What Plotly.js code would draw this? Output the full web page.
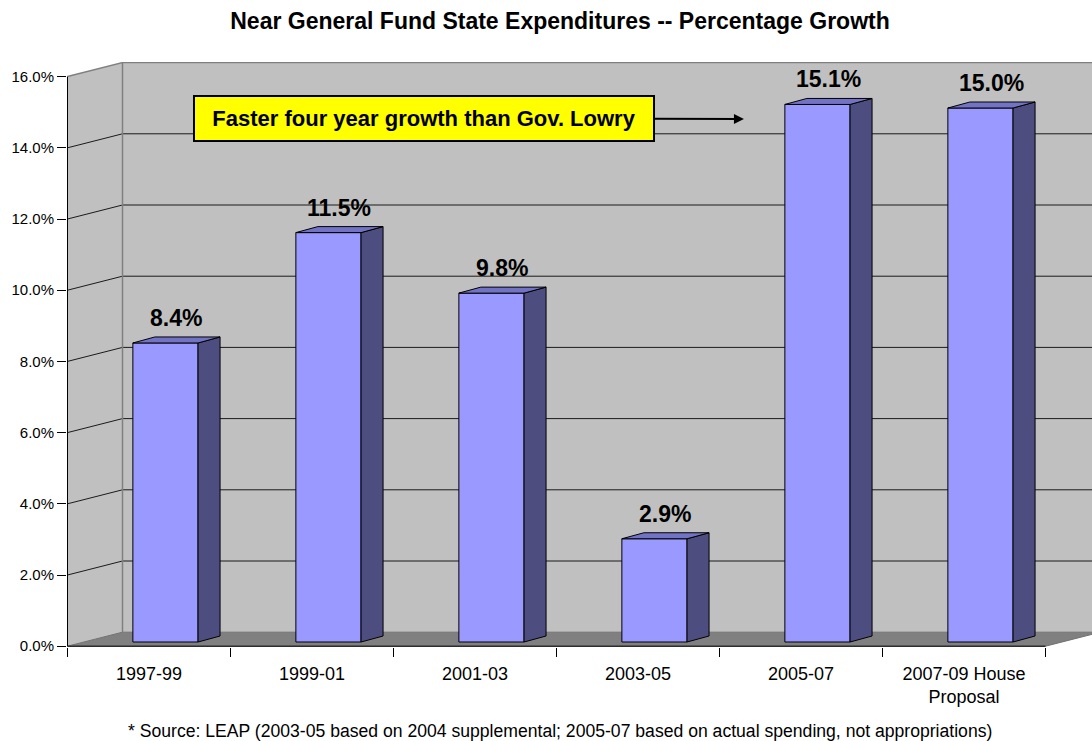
<!DOCTYPE html>
<html>
<head>
<meta charset="utf-8">
<script src="https://cdn.plot.ly/plotly-3.0.1.min.js"></script>
<style>
  html, body { margin: 0; padding: 0; background: #ffffff; }
  #chart { width: 1092px; height: 741px; }
</style>
</head>
<body>
<div id="chart"></div>
<script>
// ---- data ----
const categories = ['1997-99', '1999-01', '2001-03', '2003-05', '2005-07', '2007-09 House<br>Proposal'];
const growth = [8.4, 11.5, 9.8, 2.9, 15.1, 15.0];
const yTicks = [0, 2, 4, 6, 8, 10, 12, 14, 16];
const yTickText = ['0.0%', '2.0%', '4.0%', '6.0%', '8.0%', '10.0%', '12.0%', '14.0%', '16.0%'];
const gridTicks = [2, 4, 6, 8, 10, 12, 14];
const chartTitle = 'Near General Fund State Expenditures -- Percentage Growth';
const calloutText = 'Faster four year growth than Gov. Lowry';
const footnote = '* Source: LEAP (2003-05 based on 2004 supplemental; 2005-07 based on actual spending, not appropriations)';

// ---- 3D geometry (styling) ----
const PX_PER_CAT = 163;
const PX_PER_PCT = 35.6;
const DX = 55 / PX_PER_CAT;      // wall depth in x units
const DY = 14 / PX_PER_PCT;      // wall depth in y units
const BAR_W = 0.40;
const BAR_OFF = -0.099;
const BAR_BASE = 0.3 * DY;
const BDX = 22 / PX_PER_CAT;
const BDY = 6 / PX_PER_PCT;

const FONT = 'Liberation Sans, Arial, sans-serif';
const xIdx = categories.map((c, i) => i);
const nCat = categories.length;
const xLo = -0.5, xHi = nCat - 0.5;
const yTop = yTicks[yTicks.length - 1];

const x0 = -0.5 - 0.5 / PX_PER_CAT;
const x1 = x0 + 1025 / PX_PER_CAT;
const y0 = -0.8 / PX_PER_PCT;
const y1 = y0 + 585 / PX_PER_PCT;

// ---- traces ----
const traces = [];
traces.push({
  type: 'bar', x: xIdx, y: growth, base: BAR_BASE, width: BAR_W, offset: BAR_OFF,
  marker: { color: '#9999FF', line: { color: '#000000', width: 1 } },
  hoverinfo: 'skip', showlegend: false
});
growth.forEach((v, i) => {
  const l = i + BAR_OFF, r = l + BAR_W, b = BAR_BASE, t = BAR_BASE + v;
  // side face
  traces.push({
    type: 'scatter', mode: 'lines', fill: 'toself', fillcolor: '#4D4D80',
    x: [r, r + BDX, r + BDX, r, r], y: [b, b + BDY, t + BDY, t, b],
    line: { color: '#000000', width: 1 }, hoverinfo: 'skip', showlegend: false
  });
  // top face
  traces.push({
    type: 'scatter', mode: 'lines', fill: 'toself', fillcolor: '#7373C6',
    x: [l, l + BDX, r + BDX, r, l], y: [t, t + BDY, t + BDY, t, t],
    line: { color: '#000000', width: 1 }, hoverinfo: 'skip', showlegend: false
  });
});
// dummy trace for boundary tick axis
traces.push({ type: 'scatter', x: [], y: [], xaxis: 'x2', yaxis: 'y', showlegend: false, hoverinfo: 'skip' });

// ---- shapes (walls, floor, gridlines, axis lines) ----
const shapes = [];
shapes.push({ type: 'path', layer: 'below', xref: 'x', yref: 'y',
  path: `M ${xLo} 0 L ${xLo + DX} ${DY} L ${xLo + DX} ${yTop + DY} L ${xLo} ${yTop} Z`,
  fillcolor: '#C0C0C0', line: { width: 0 } });
shapes.push({ type: 'path', layer: 'below', xref: 'x', yref: 'y',
  path: `M ${xLo + DX} ${DY} L ${xHi + DX} ${DY} L ${xHi + DX} ${yTop + DY} L ${xLo + DX} ${yTop + DY} Z`,
  fillcolor: '#C0C0C0', line: { width: 0 } });
shapes.push({ type: 'path', layer: 'below', xref: 'x', yref: 'y',
  path: `M ${xLo} 0 L ${xHi} 0 L ${xHi + DX} ${DY} L ${xLo + DX} ${DY} Z`,
  fillcolor: '#808080', line: { color: '#707070', width: 1 } });
gridTicks.forEach(v => {
  shapes.push({ type: 'path', layer: 'below', xref: 'x', yref: 'y',
    path: `M ${xLo} ${v} L ${xLo + DX} ${v + DY} L ${xHi + DX} ${v + DY}`,
    line: { color: '#1A1A1A', width: 1 } });
});
shapes.push({ type: 'path', layer: 'below', xref: 'x', yref: 'y',
  path: `M ${xLo} ${yTop} L ${xLo + DX} ${yTop + DY} L ${xHi + DX} ${yTop + DY}`,
  line: { color: '#808080', width: 1.5 } });
shapes.push({ type: 'line', layer: 'below', xref: 'x', yref: 'y',
  x0: xLo + DX, y0: DY, x1: xLo + DX, y1: yTop + DY,
  line: { color: '#808080', width: 1.5 } });
shapes.push({ type: 'line', layer: 'below', xref: 'x', yref: 'y',
  x0: xLo, y0: 0, x1: xLo, y1: yTop, line: { color: '#000000', width: 1 } });
shapes.push({ type: 'line', layer: 'below', xref: 'x', yref: 'y',
  x0: xLo, y0: 0, x1: xHi, y1: 0, line: { color: '#000000', width: 1 } });

// ---- annotations ----
const annotations = growth.map((v, i) => ({
  xref: 'x', yref: 'y', x: i + BAR_OFF + (BAR_W + BDX) / 2, y: BAR_BASE + v + BDY,
  yanchor: 'middle', yshift: 19, showarrow: false,
  text: '<b>' + v.toFixed(1) + '%</b>',
  font: { family: FONT, size: 23, color: '#000000' }
}));
annotations.push({
  xref: 'x', yref: 'y', axref: 'x', ayref: 'y',
  x: 3.65, y: 14.81, ax: 1.687, ay: 14.82,
  text: '<b>' + calloutText + '</b>',
  font: { family: FONT, size: 22, color: '#000000' },
  bgcolor: '#FFFF00', bordercolor: '#000000', borderwidth: 2, borderpad: 0,
  width: 458, height: 43,
  showarrow: true, arrowhead: 2, arrowsize: 1, arrowwidth: 2, arrowcolor: '#000000'
});
annotations.push({
  xref: 'paper', yref: 'paper', x: (560 - 67) / 1025, y: (647 - 731) / 585,
  xanchor: 'center', yanchor: 'middle', showarrow: false,
  text: footnote, font: { family: FONT, size: 17.6, color: '#000000' }
});

const layout = {
  width: 1092, height: 741,
  margin: { l: 67, r: 0, t: 62, b: 94 },
  paper_bgcolor: '#FFFFFF', plot_bgcolor: 'rgba(0,0,0,0)',
  showlegend: false,
  title: {
    text: '<b>' + chartTitle + '</b>',
    font: { family: FONT, size: 23, color: '#000000' },
    x: 560 / 1092, xref: 'container', xanchor: 'center',
    y: 1 - 21 / 741, yref: 'container', yanchor: 'middle'
  },
  xaxis: {
    type: 'linear', range: [x0, x1], tickvals: xIdx, ticktext: categories,
    ticks: 'outside', ticklen: 10, tickcolor: 'rgba(0,0,0,0)',
    showline: false, showgrid: false, zeroline: false, fixedrange: true,
    tickfont: { family: FONT, size: 18, color: '#000000' }
  },
  xaxis2: {
    type: 'linear', range: [x0, x1], overlaying: 'x', anchor: 'y', side: 'bottom',
    tickvals: categories.map((c, i) => i - 0.5).concat([nCat - 0.5]),
    ticks: 'outside', ticklen: 9, tickwidth: 1, tickcolor: '#000000',
    showticklabels: false, showline: false, showgrid: false, zeroline: false, fixedrange: true
  },
  yaxis: {
    range: [y0, y1], tickvals: yTicks, ticktext: yTickText,
    ticks: 'outside', ticklen: 9, tickwidth: 1, tickcolor: '#000000',
    showline: false, showgrid: false, zeroline: false, fixedrange: true,
    tickfont: { family: FONT, size: 15, color: '#000000' }
  },
  shapes: shapes,
  annotations: annotations
};

Plotly.newPlot('chart', traces, layout, { staticPlot: true, displayModeBar: false });
</script>
</body>
</html>
